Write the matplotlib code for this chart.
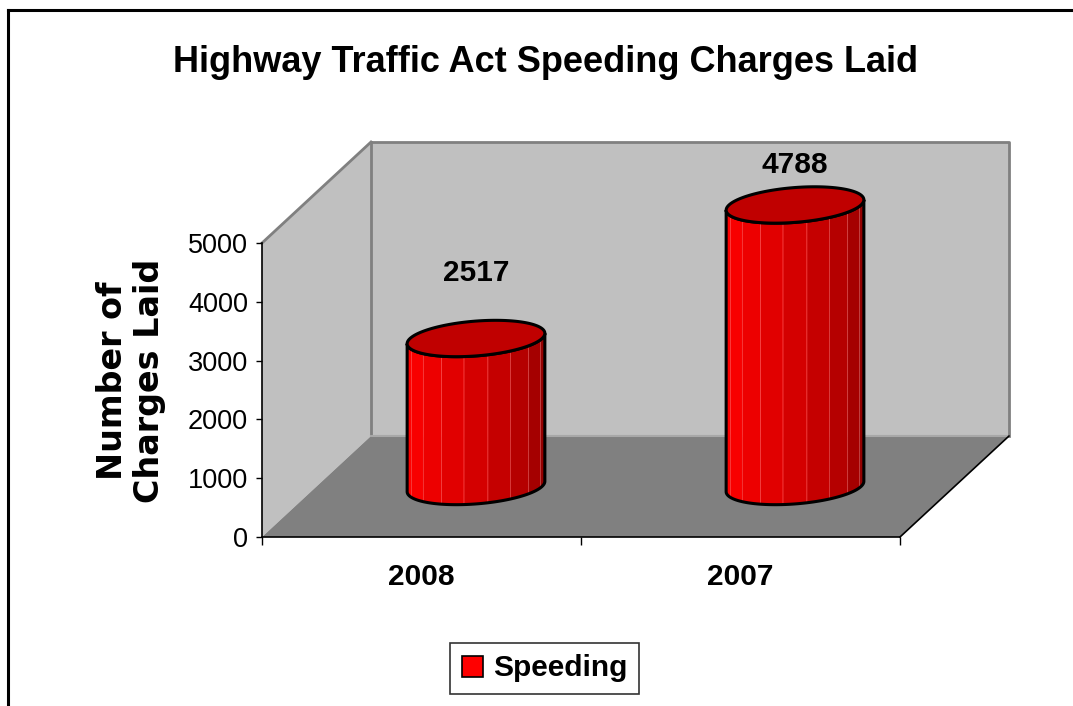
import matplotlib
matplotlib.use('Agg')
import matplotlib.pyplot as plt
import numpy as np
from matplotlib.patches import Polygon, Patch
from matplotlib.lines import Line2D
from matplotlib import font_manager

# data
years = ['2008', '2007']
charges = [2517, 4788]
series_name = 'Speeding'
y_ticks = [0, 1000, 2000, 3000, 4000, 5000]
title = 'Highway Traffic Act Speeding Charges Laid'
y_label = 'Number of\nCharges Laid'

names = {f.name for f in font_manager.fontManager.ttflist}
has_narrow = 'Liberation Sans Narrow' in names
narrow = 'Liberation Sans Narrow' if has_narrow else 'Liberation Sans'
plain = 'Liberation Sans'
# sizes for bold labels (smaller if the narrow face is missing)
big = 26 if has_narrow else 21.5
title_size = 30 if has_narrow else 26

W, H = 1073, 706
fig = plt.figure(figsize=(W / 100, H / 100), dpi=100)
ax = fig.add_axes([262 / W, 1 - 537 / H, 638 / W, 294 / H])
ax.set_facecolor('none')
n = len(years)
ax.set_xlim(0, n)
ax.set_ylim(0, y_ticks[-1])

# size of one pixel in data units, and depth of the 3d box
px_x = n / 638
px_y = y_ticks[-1] / 294
DX = 109 * px_x
DY = 101 * px_y
top = y_ticks[-1]

# walls + floor
back = Polygon([(DX, DY), (n + DX, DY), (n + DX, top + DY), (DX, top + DY)],
               closed=True, fc='#C0C0C0', ec='none', clip_on=False, zorder=0)
left = Polygon([(0, 0), (DX, DY), (DX, top + DY), (0, top)],
               closed=True, fc='#C0C0C0', ec='none', clip_on=False, zorder=0)
floor = Polygon([(0, 0), (n, 0), (n + DX, DY), (DX, DY)],
                closed=True, fc='#808080', ec='none', clip_on=False, zorder=0.5)
for p in (back, left, floor):
    ax.add_patch(p)

gray = '#808080'
ax.plot([0, DX], [top, top + DY], color=gray, lw=2, clip_on=False, zorder=1)
ax.plot([DX, n + DX, n + DX], [top + DY, top + DY, DY], color=gray, lw=2, clip_on=False, zorder=1)
ax.plot([DX, DX], [DY, top + DY], color=gray, lw=2, clip_on=False, zorder=1)
ax.plot([DX, n + DX], [DY, DY], color='#A8A8A8', lw=1.5, clip_on=False, zorder=1)
ax.plot([n, n + DX], [0, DY], color='black', lw=1.2, clip_on=False, zorder=1)

# cylinders
a = 66 * px_x
b = 0.18
bx, by = b * DX, b * DY
th0 = np.arctan2(bx, a)


def ell(cx, cy, th):
    return cx + a * np.cos(th) + bx * np.sin(th), cy + by * np.sin(th)


nfac = 9
label_offsets = [34, 16]
for i, v in enumerate(charges):
    cx = i + 0.5 + 0.5 * DX
    cy0 = 0.5 * DY
    cy1 = v + 0.5 * DY
    edges = np.linspace(th0 + np.pi, th0 + 2 * np.pi, nfac + 1)
    for k in range(nfac):
        th = np.linspace(edges[k], edges[k + 1], 12)
        xt, yt = ell(cx, cy1, th)
        xb, yb = ell(cx, cy0, th[::-1])
        t = k / (nfac - 1)
        r = 1.0 - 0.42 * t ** 1.3
        ax.add_patch(Polygon(np.column_stack([np.r_[xt, xb], np.r_[yt, yb]]),
                             closed=True, fc=(r, 0, 0), ec=(min(1, r + 0.2), 0.3, 0.3),
                             lw=0.4, clip_on=False, zorder=3))
    th = np.linspace(th0 + np.pi, th0 + 2 * np.pi, 120)
    xt, yt = ell(cx, cy1, th)
    xb, yb = ell(cx, cy0, th[::-1])
    ax.add_patch(Polygon(np.column_stack([np.r_[xt, xb], np.r_[yt, yb]]),
                         closed=True, fc='none', ec='black', lw=2.2, clip_on=False, zorder=4))
    th = np.linspace(0, 2 * np.pi, 240)
    xe, ye = ell(cx, cy1, th)
    ax.add_patch(Polygon(np.column_stack([xe, ye]), closed=True, fc='#C00000',
                         ec='black', lw=2.2, clip_on=False, zorder=5))
    ax.annotate(str(v), xy=(cx, cy1 + by), xytext=(0, label_offsets[i]),
                textcoords='offset points', ha='center', va='center',
                fontfamily=narrow, fontweight='bold', fontsize=big, zorder=6,
                annotation_clip=False)

# axes
for s in ('top', 'right'):
    ax.spines[s].set_visible(False)
for s in ('left', 'bottom'):
    ax.spines[s].set_color('black')
    ax.spines[s].set_linewidth(1.2)
    ax.spines[s].set_zorder(2)
ax.set_yticks(y_ticks)
ax.set_yticklabels([str(t) for t in y_ticks], fontfamily=plain, fontsize=19.5)
ax.tick_params(axis='y', direction='out', length=4, width=1, pad=6)
ax.set_xticks(range(n + 1))
ax.set_xticklabels([])
ax.tick_params(axis='x', which='major', direction='out', length=6, width=1)
ax.set_xticks([i + 0.5 for i in range(n)], minor=True)
ax.set_xticklabels(years, minor=True, fontfamily=narrow, fontweight='bold', fontsize=big)
ax.tick_params(axis='x', which='minor', length=0, pad=19)

fig.text(546 / W, 1 - 63 / H, title, ha='center', va='center',
         fontfamily=narrow, fontweight='bold', fontsize=title_size)
fig.text(131 / W, 1 - 381 / H, y_label, ha='center', va='center', rotation=90,
         multialignment='center', fontfamily='DejaVu Sans', fontweight='bold',
         fontsize=24, linespacing=1.12)

handle = Patch(facecolor='#FF0000', edgecolor='black', lw=1.2)
leg = fig.legend([handle], [series_name], loc='center',
                 bbox_to_anchor=(544.5 / W, 1 - 668.5 / H), frameon=True,
                 fancybox=False, edgecolor='black',
                 prop=dict(family=narrow, weight='bold', size=big),
                 handlelength=0.7, handleheight=0.7, handletextpad=0.35,
                 borderpad=0.4, borderaxespad=0)
leg.get_frame().set_linewidth(1.2)

# chart area border (cut off at right and bottom)
fig.add_artist(Line2D([7.5 / W, 1], [1 - 9.5 / H] * 2, transform=fig.transFigure,
                      color='black', lw=2.2))
fig.add_artist(Line2D([7.5 / W] * 2, [1 - 9.5 / H, 0], transform=fig.transFigure,
                      color='black', lw=2.2))

fig.savefig('out.png', dpi=100)
